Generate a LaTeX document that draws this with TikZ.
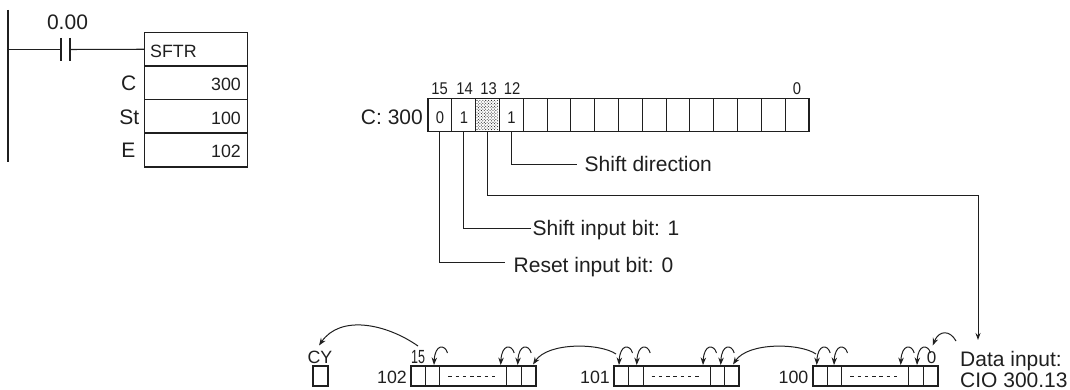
\documentclass[tikz,border=0pt]{standalone}
\usepackage{fontspec}
\setmainfont{Liberation Sans}
\usetikzlibrary{arrows.meta}
\newcommand{\fs}[1]{\fontsize{#1}{#1}\selectfont}
\newcommand{\cond}[2][0.87]{\scalebox{#1}[1]{#2}}
\colorlet{ink}{black!88}
\tikzset{
  x=1pt,y=-1pt,
  wire/.style={line width=1.05pt,color=ink},
  heavy/.style={line width=1.6pt,color=ink},
  lab/.style={inner sep=0pt,font=\fs{21},text=ink},
  val/.style={inner sep=0pt,font=\fs{17.8},text=ink},
  bitlab/.style={inner sep=0pt,font=\fs{17},text=ink},
  cell/.style={draw=ink,line width=1pt,minimum width=23.8pt,minimum height=33pt,inner sep=0pt,outer sep=0pt},
  ladder/.style={draw=ink,line width=1.05pt,minimum width=103pt,inner sep=0pt,outer sep=0pt},
  bcell/.style={draw=ink,line width=1pt,minimum height=20.3pt,inner sep=0pt,outer sep=0pt},
  hop/.style={line width=1pt,color=ink,-{Stealth[length=7.5pt,width=5.5pt]}},
  lead/.style={line width=1pt,color=ink},
}
\begin{document}
\begin{tikzpicture}
\useasboundingbox (0,0) rectangle (1070,390);
% ladder
\coordinate (railtop) at (8,10);
\coordinate (railbot) at (8,162);
\coordinate (rungl) at (8,49.5);
\draw[wire] (railtop) -- (railbot);
\coordinate (c1t) at (61,38); \coordinate (c1b) at (61,61);
\coordinate (c2t) at (70,38); \coordinate (c2b) at (70,61);
\coordinate (c1m) at (61,49.5); \coordinate (c2m) at (70,49.5);
\draw[heavy] (c1t) -- (c1b);
\draw[heavy] (c2t) -- (c2b);
\node[lab,anchor=base] (addr) at (67.5,30) {0.00};
\node[ladder,minimum height=33.5pt,anchor=north west] (sftr) at (144.5,32.5) {};
\node[ladder,minimum height=33.5pt,anchor=north west] (cbox) at (144.5,66) {};
\node[ladder,minimum height=33.5pt,anchor=north west] (stbox) at (144.5,99.5) {};
\node[ladder,minimum height=34pt,anchor=north west] (ebox) at (144.5,133) {};
\draw[heavy] (sftr.north west) rectangle (ebox.south east);
\draw[wire] (rungl) -- (c1m);
\draw[wire] (c2m) -- (sftr.west);
\node[val,anchor=base west] (fn) at (150,58) {SFTR};
\node[val,anchor=base east] (v1) at (241,90.7) {300};
\node[val,anchor=base east] (v2) at (241,124.7) {100};
\node[val,anchor=base east] (v3) at (241,157.7) {102};
\node[lab,anchor=base east] (nc) at (136.5,90.7) {C};
\node[lab,anchor=base east] (nst) at (139.5,124.7) {St};
\node[lab,anchor=base east] (ne) at (135.5,157.7) {E};
% register
\node[lab,anchor=base east] (reg) at (423,124.3) {C: 300};
\foreach \i [count=\k from 0] in {15,14,13,12,11,10,9,8,7,6,5,4,3,2,1,0} {
  \node[cell] (r\i) at ({428+11.9+23.8*\k},115) {};
}
% stipple of bit 13
\foreach \a in {0,...,7} \foreach \b in {0,...,10} {
  \fill[ink] (477+\a*2.9,100.5+\b*2.9) circle (0.55);
  \ifnum\a<7 \ifnum\b<10 \fill[ink] (478.45+\a*2.9,101.95+\b*2.9) circle (0.55); \fi\fi
}
\draw[heavy] (r15.north west) rectangle (r0.south east);
\node[bitlab,anchor=base] (d15) at (440,123.3) {\cond{0}};
\node[bitlab,anchor=base] (d14) at (464,123.3) {\cond{1}};
\node[bitlab,anchor=base] (d12) at (511.5,123.3) {\cond{1}};
\node[bitlab,anchor=base] (bit15) at (439.5,95) {\cond{15}};
\node[bitlab,anchor=base] (bit14) at (464.5,95) {\cond{14}};
\node[bitlab,anchor=base] (bit13) at (488.5,95) {\cond{13}};
\node[bitlab,anchor=base] (bit12) at (512,95) {\cond{12}};
\node[bitlab,anchor=base] (bit0) at (797,95) {\cond{0}};
% leader labels
\coordinate (dirend) at (577,165);
\coordinate (setend) at (531,228);
\coordinate (rstend) at (505,262);
\coordinate (dataturn) at (978,195.5);
\node[lab,anchor=base west] (dirl) at (584.5,171.7) {Shift direction};
\node[lab,anchor=base west] (setl) at (532.5,235) {Shift input bit: 1};
\node[lab,anchor=base west] (rstl) at (513.5,272.7) {Reset input bit: 0};
\draw[lead] (r12.south) |- (dirend);
\draw[lead] (r14.south) |- (setend);
\draw[lead] (r15.south) |- (rstend);
% CY
\node[val,anchor=base] (cyl) at (320,363.3) {CY};
\node[bcell,line width=1.6pt,minimum width=15pt,anchor=north west] (cy) at (312.7,365.7) {};
% words
\foreach \w/\L in {w102/410.7,w101/614,w100/812.7} {
  \node[bcell,minimum width=14.4pt,anchor=north west] (\w a) at (\L,365.7) {};
  \node[bcell,minimum width=14.6pt,anchor=west] (\w b) at (\w a.east) {};
  \node[bcell,minimum width=67pt,anchor=west] (\w c) at (\w b.east) {};
  \node[bcell,minimum width=14.6pt,anchor=west] (\w d) at (\w c.east) {};
  \node[bcell,minimum width=14.6pt,anchor=west] (\w e) at (\w d.east) {};
  \draw[heavy] (\w a.north west) rectangle (\w e.south east);
  \draw[wire,line width=1.3pt,dash pattern=on 3.4pt off 3.9pt] ([xshift=-25pt,yshift=-0.5pt]\w c.center) -- ([xshift=25pt,yshift=-0.5pt]\w c.center);
}
\node[val,anchor=base east] (n102) at (407,383.3) {102};
\node[val,anchor=base east] (n101) at (610,383.3) {101};
\node[val,anchor=base east] (n100) at (808.5,383.3) {100};
\node[inner sep=0pt,font=\fs{19},text=ink,anchor=base] (b15) at (418,363.3) {\cond[0.66]{15}};
\node[inner sep=0pt,font=\fs{17},text=ink,anchor=base] (b0) at (931.5,363.3) {0};
\node[lab,anchor=base west] (datal) at (960,366) {Data input:};
\node[lab,anchor=base west] (cio) at (960,387) {CIO 300.13};
% hops
\foreach \t [count=\n] in {434,500.7,517.7,619,636.7,703,720.7,816.7,834,900.7,917} {
  \coordinate (hs\n) at (\t+13.5,353);
  \coordinate (hc\n) at (\t+11,344);
  \coordinate (hd\n) at (\t+1,344);
  \coordinate (ht\n) at (\t,365);
  \draw[hop] (hs\n) .. controls (hc\n) and (hd\n) .. (ht\n);
}
\coordinate (ls1) at (616,354); \coordinate (lt1) at (533,364.5);
\coordinate (ls2) at (816,354); \coordinate (lt2) at (733,364.5);
\draw[hop] (ls1) .. controls (600,343) and (548,342) .. (lt1);
\draw[hop] (ls2) .. controls (800,343) and (748,342) .. (lt2);
\coordinate (ds) at (956,341); \coordinate (dt) at (932.7,345.5);
\draw[hop] (ds) .. controls (950,330) and (939,330) .. (dt);
\coordinate (cs) at (418,346); \coordinate (ct) at (319,345.5);
\draw[hop] (cs) .. controls (385,323) and (340,315) .. (ct);
% data input leader
\coordinate (dataend) at (978,340);
\draw[lead,-{Stealth[length=7pt,width=5pt]}] (r13.south) |- (dataturn) -- (dataend);
\end{tikzpicture}
\end{document}
